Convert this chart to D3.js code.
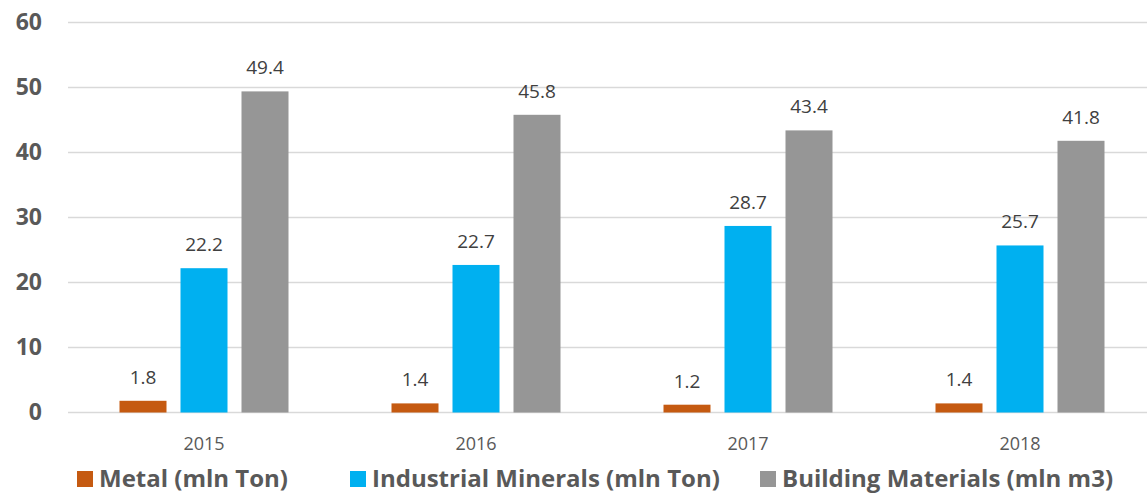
<!DOCTYPE html>
<html>
<head>
<meta charset="utf-8">
<script src="https://cdn.jsdelivr.net/npm/d3@7"></script>
<style>
body { margin: 0; background: #fff; }
svg { display: block; font-family: "Open Sans", "Liberation Sans", sans-serif; }
</style>
</head>
<body>
<div id="chart"></div>
<script>
// data
var years = ["2015", "2016", "2017", "2018"];
var seriesNames = ["Metal (mln Ton)", "Industrial Minerals (mln Ton)", "Building Materials (mln m3)"];
var metal = [1.8, 1.4, 1.2, 1.4];
var industrial = [22.2, 22.7, 28.7, 25.7];
var building = [49.4, 45.8, 43.4, 41.8];
var yTicks = [0, 10, 20, 30, 40, 50, 60];
var colors = ["#C55A11", "#00B0F0", "#969696"];

var W = 1147, H = 494;
var plotLeft = 68, plotTop = 22.5, plotBottom = 412.5;

var svg = d3.select("#chart").append("svg")
	.attr("width", W).attr("height", H);

var y = d3.scaleLinear().domain([0, 60]).range([plotBottom, plotTop]);
var x = d3.scaleBand().domain(years).range([plotLeft, plotLeft + 272 * 4]).paddingInner(0).paddingOuter(0);
var xs = d3.scaleBand().domain([0, 1, 2]).range([51.5, 272 - 51.5]).paddingInner(14 / 61).paddingOuter(0);

// gridlines
svg.append("g").selectAll("line").data(yTicks).enter().append("line")
	.attr("x1", plotLeft).attr("x2", W)
	.attr("y1", function(d) { return y(d); })
	.attr("y2", function(d) { return y(d); })
	.attr("stroke", "#d9d9d9").attr("stroke-width", 1.3);

// y axis labels
var yAxis = d3.axisLeft(y).tickValues(yTicks).tickSize(0).tickPadding(0);
var ya = svg.append("g").attr("transform", "translate(42,0)").call(yAxis);
ya.select(".domain").remove();
ya.selectAll("text")
	.attr("font-size", 23).attr("font-weight", "bold").attr("fill", "#595959")
	.attr("font-family", "'Open Sans', sans-serif");

// x axis labels
var xAxis = d3.axisBottom(x).tickSize(0).tickPadding(0);
var xa = svg.append("g").attr("transform", "translate(0,437)").call(xAxis);
xa.select(".domain").remove();
xa.selectAll("text")
	.attr("font-size", 18).attr("fill", "#595959")
	.attr("font-family", "'Open Sans', sans-serif");

var all = [metal, industrial, building];
var bars = [];
years.forEach(function(yr, i) {
	all.forEach(function(s, j) {
		bars.push({year: yr, s: j, v: s[i]});
	});
});

svg.append("g").selectAll("rect").data(bars).enter().append("rect")
	.attr("x", function(d) { return x(d.year) + xs(d.s); })
	.attr("width", xs.bandwidth())
	.attr("y", function(d) { return y(d.v); })
	.attr("height", function(d) { return y(0) - y(d.v); })
	.attr("fill", function(d) { return colors[d.s]; });

svg.append("g").selectAll("text").data(bars).enter().append("text")
	.attr("x", function(d) { return x(d.year) + xs(d.s) + xs.bandwidth() / 2; })
	.attr("y", function(d) { return y(d.v) - 17; })
	.attr("text-anchor", "middle")
	.attr("font-size", 19).attr("fill", "#404040")
	.text(function(d) { return d.v.toFixed(1); });

// legend
var legendX = [77, 350, 760];
var lg = svg.append("g").selectAll("g").data(seriesNames).enter().append("g")
	.attr("transform", function(d, i) { return "translate(" + legendX[i] + ",471)"; });
lg.append("rect").attr("width", 16).attr("height", 16)
	.attr("fill", function(d, i) { return colors[i]; });
lg.append("text").attr("x", 22).attr("y", 16)
	.attr("font-size", 24).attr("font-weight", "bold").attr("fill", "#595959")
	.text(function(d) { return d; });
</script>
</body>
</html>
